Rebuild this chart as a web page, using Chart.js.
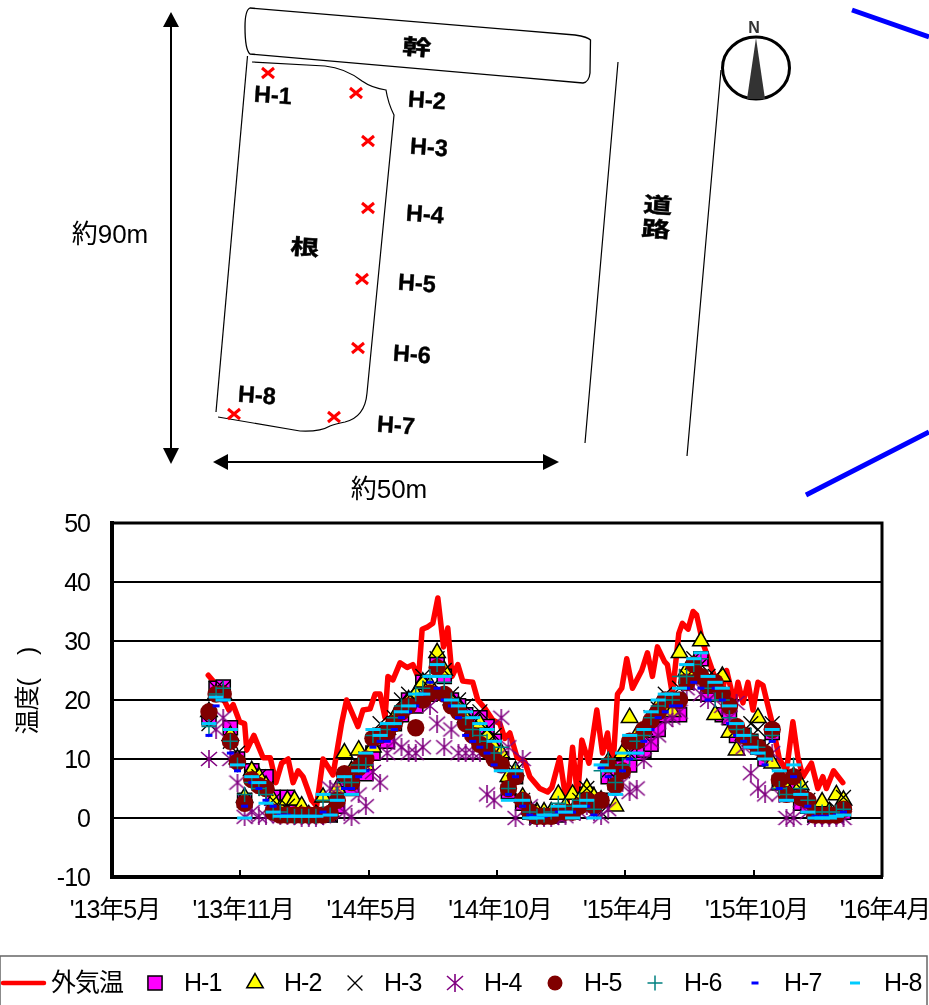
<!DOCTYPE html>
<html lang="ja">
<head>
<meta charset="utf-8">
<title>温度</title>
<script src="https://cdn.jsdelivr.net/npm/chart.js@4"></script>
<style>
html, body { margin: 0; padding: 0; background: #fff; }
#wrap { position: relative; width: 929px; height: 1005px; overflow: hidden; }
#myChart { position: absolute; left: 0; top: 0; }
#plan { position: absolute; left: 0; top: 0; }
#plan .lbl { font: bold 23.5px "Liberation Sans", Arial, sans-serif; text-anchor: middle; stroke: #000; stroke-width: .4; }
#plan .kanji { font: bold 25px "Noto Sans CJK JP", sans-serif; text-anchor: middle; stroke: #000; stroke-width: .6; }
#plan .dim { font: 26px "Liberation Sans", "Noto Sans CJK JP", sans-serif; text-anchor: middle; }
</style>
</head>
<body>
<div id="wrap">
<canvas id="myChart" width="929" height="1005"></canvas>
<svg id="plan" width="929" height="510" viewBox="0 0 929 510">
  <!-- trunk, root, road -->
  <path d="M250 8 L575 35 Q588 37 590.5 40 L590 73 Q589 82 583 83 L250 54 Q245 50 245 27 Q245 10 250 8 Z" fill="none" stroke="#000" stroke-width="1.3"/>
  <path d="M247.5 56 L216 412" fill="none" stroke="#000" stroke-width="1.2"/>
  <path d="M252 62 L325 66 Q345 68 362 81 Q372 88 386 90 Q388 103 394 115 L367 393 Q365 417 345 422 Q335 424 330 426 Q320 432 300 431 L218 417" fill="none" stroke="#000" stroke-width="1.2"/>
  <path d="M618 62 L585 443 M721 70 L687 456" fill="none" stroke="#000" stroke-width="1.2"/>
  <!-- compass -->
  <ellipse cx="756" cy="68" rx="33.5" ry="31" fill="#fff" stroke="#000" stroke-width="3"/>
  <path d="M756 38 L765 99 L747 99 Z" fill="#333"/>
  <text x="754" y="33" font-family="Liberation Sans" font-weight="bold" font-size="16" fill="#333" text-anchor="middle">N</text>
  <!-- blue lines -->
  <path d="M852 10 L929 37 M806 495 L929 432" stroke="#0000ff" stroke-width="5" fill="none"/>
  <!-- dimension arrows -->
  <path d="M171 20 L171 456 M222 462 L550 462" stroke="#000" stroke-width="2" fill="none"/>
  <path d="M171 12 L179 27 L163 27 Z M171 464 L179 448 L163 448 Z M213 462 L228 454 L228 470 Z M559 462 L543 454 L543 470 Z" fill="#000"/>
  <text class="dim" x="110" y="243">約90m</text>
  <text class="dim" x="389" y="498">約50m</text>
  <!-- measuring points -->
  <g stroke="#ff0000" stroke-width="3" fill="none">
    <path d="M262 68 L274 78 M274 68 L262 78"/>
    <path d="M350 88 L362 98 M362 88 L350 98"/>
    <path d="M362 136 L374 146 M374 136 L362 146"/>
    <path d="M362 203 L374 213 M374 203 L362 213"/>
    <path d="M356 274 L368 284 M368 274 L356 284"/>
    <path d="M352 343 L364 353 M364 343 L352 353"/>
    <path d="M328 412 L340 422 M340 412 L328 422"/>
    <path d="M228 409 L240 419 M240 409 L228 419"/>
  </g>
  <g>
    <text class="lbl" transform="rotate(4 273 95)" x="273" y="103">H-1</text>
    <text class="lbl" transform="rotate(4 427 100)" x="427" y="108">H-2</text>
    <text class="lbl" transform="rotate(4 429 147)" x="429" y="155">H-3</text>
    <text class="lbl" transform="rotate(4 425 214)" x="425" y="222">H-4</text>
    <text class="lbl" transform="rotate(4 417 283)" x="417" y="291">H-5</text>
    <text class="lbl" transform="rotate(4 412 354)" x="412" y="362">H-6</text>
    <text class="lbl" transform="rotate(4 396 425)" x="396" y="433">H-7</text>
    <text class="lbl" transform="rotate(4 257 395)" x="257" y="403">H-8</text>
    <text class="kanji" transform="translate(417 47) rotate(4) scale(1.15 .85)" y="9">幹</text>
    <text class="kanji" transform="translate(305 247) rotate(4) scale(1.15 .85)" y="9">根</text>
    <text class="kanji" transform="translate(658 205) rotate(4) scale(1.15 .85)" y="9">道</text>
    <text class="kanji" transform="translate(656 229) rotate(4) scale(1.15 .85)" y="9">路</text>
  </g>
</svg>
</div>
<script>
// axis labels
const tickLabels = ["'13年5月", "'13年11月", "'14年5月", "'14年10月", "'15年4月", "'15年10月", "'16年4月"];
const seriesNames = ["外気温", "H-1", "H-2", "H-3", "H-4", "H-5", "H-6", "H-7", "H-8"];

// days counted from '13年5月, outside temperature has its own sampling
const airDays = [135,147,164,170,179,186,189,199,212,222,230,238,247,254,261,268,280,287,296,310,322,329,345,352,362,369,376,383,387,394,404,414,422,430,435,443,450,457,465,471,477,485,492,506,513,523,534,544,551,558,568,579,586,600,611,617,628,638,646,653,659,669,680,688,695,702,709,715,722,730,743,751,758,765,775,779,786,795,800,808,815,820,829,845,855,862,873,878,885,892,899,906,913,925,936,946,955,962,969,981,990,997,1002,1012,1025];
const airTemp = [24.2,22.5,18.3,19.2,16.3,16,11.5,14,10.2,10.2,6,9.3,10,6,8,7,3,2,10,7.3,16,20,15.5,18.3,18.5,21,21,17,24,23.4,26.3,25.5,26,23.7,32,32.4,33,37.3,29,32.2,24,26,23.2,23,20,18.6,16.6,16,13.5,14.4,10.3,9.5,7,5,4.4,5.2,10.2,2,12,3.6,13.2,9.3,18.3,11,14.4,7.6,21,22,27,22,25,28,24,29,26.5,26,21,31.3,33,32,35,34.4,29.6,24,21,25,19.5,23,19.5,23,18.3,23,22.5,16.6,10,8,16.3,10.3,7,9.3,5,7,5,8,6];

// sampling days of the H-1 .. H-8 sensors
const sensorDays = [136,146,156,166,176,186,196,206,216,226,236,246,256,266,276,286,296,306,316,326,336,346,356,366,376,386,396,406,416,426,436,446,456,466,476,486,496,506,516,526,536,546,556,566,576,586,596,606,616,626,636,646,656,666,676,686,696,706,716,726,736,746,756,766,776,786,796,806,816,826,836,846,856,866,876,886,896,906,916,926,936,946,956,966,976,986,996,1006,1016,1026];

const h1 = [17,22,22.2,15.3,10,3,8,6,7,3.5,1.5,3.5,2,0.5,0.5,0.5,0.5,0.5,2,6.5,5,8,7.5,11,14,13,16,17.5,20,19,23,21,26,24,20,19,17.5,16,17,15.5,13,10,4.5,7,2.5,1,0.3,0.3,0.3,0.5,1,1,2.5,4,2.5,3,7,6,8.5,9,11,11.5,12.5,15,17.5,17.5,17.5,23,24,27,21,23,17.5,17,14,14,13,12,10,14.5,6,4,6,2.5,2,0.5,0.5,0.5,0.5,1];
const h2 = [18,21,21,14,10,3.5,8,7,5.5,3,1.5,3,3,2,0.5,0.5,3.5,1,5,11,8,11.5,9,12,14,15,17,18.5,20,21,23,22.5,28,25,20,19,17,15,16,14,12,11,7,8,3.5,1.5,1,1,1,4,2,4,3,5,3.5,3,9.5,2,11,17,14,15,17,19,19,18,28,25,26,30,22,17.5,24,14.5,11.5,14,13,17,11,9.3,5.6,5,7,5.6,3,1,2.7,1,3.9,3];
const h3 = [16,22,22,13,11,3,7,7,5,3,1,2,1,0.5,0.3,0.3,1,0.5,3,7,6,9,10,13,16,15,17,20,21,20,24,22,27,25,21,20,19,17,18,15,14,10,5,8,3,1,0,0.5,0.5,1,1,1,3,5,3,1,8,6,8,11,13,14,17,18.5,21,20,22,24,27,26,24,24,21,19,15,14,16,15,12,16,7,5,7,5,3,0.5,0.5,0.5,1.5,3.5];
const h4 = [10,15,17,10,6,0.2,1,0.3,0.3,1,0.3,0.3,0.3,0,0,0,0.3,5,5,1,0.2,4,2,7.8,6,11,13,12,11,11,12,19,16,12,15,11,11,11,11,4,3,17,12,0,10,2,0,0,0,0.3,0.3,1,1,2,1,0.3,1.5,5,6,4.4,5,9.8,13,14,16.6,17,18,22,23,21,20,21,19,17,19.5,12,7.6,5,4,11,4,0,0,3,1,0,0,0,0,0];
const h5 = [18,21,21,13,9.5,2.5,6.5,5.5,5,1,0.5,0.5,0.5,0.5,0.5,0.5,0.5,0.8,3,7.5,6,8.5,10,13.5,14,14.5,16,18,19,15.3,20,21.2,25.5,21,19,18,16,14,12.5,11.5,10,9,5,7,3,1,0.3,0.3,0.3,1,1,1,2,3,2,3,9,5.5,8,13,13,15,16.5,18,20,20,20,23,26,24,22.5,23,21,19,15.5,14,13,12,11,15,6.5,4,7,3.5,3,0.5,0.5,0.5,0.5,1.5];
const h6 = [15.5,21,22,13,9,4,6,5,4,1,1,0.5,0.3,0.3,0.3,0.3,3,0.5,4,6,6,9,9,14,14,15,17,19,19,21,22,24,26,23,20,19,17,15,14,13,11,12,5,8,3,1,0.3,0.5,1,2.5,2,2,3,3,1.5,8,10,6,9,10,13,14,17,19,20,20,24,24,26,27,22,20,20,17,15,14,14,12,10,14,5,4,9,5,3,1,1,1,1,1.5];
const h7 = [14,19,20,11,8,2,6,5,3,2,0.5,0.5,0.3,0.3,0.3,0.3,1,0.5,3,5,5,7,8,12,13,13,15,17,18,19,21,23,22,20,19,17,14,13,12,11,9,8,4,7,2,0.5,0.3,0.3,0.5,1,1,1,2,2,0.5,8.5,7,4,8,10,11,13,15,17,18,19,19,22,23,22,20,22,20,16,14,13,12,11,9,13,5,3,7,4,2,0.3,0.3,0.3,0.5,1];
const h8 = [16,20.5,20,15,9,0,7,6,2.5,1,0.3,0.3,0.3,0.3,0.3,0.3,4,0.5,3,7,4,8,11,15,14,16,16,18,19,21,21,24,26,24,20,19,18,17,16,15,13,8,3,8,3,0,0,0.5,0.5,2,1,0,2,3,0,9,8,4,11,14,11,15,18,20,21,21,22,26,27,28,24,23,22,19,16,14,12,11,10,15,8,3,9,4,1,0,0,0,0.3,0.5];

const sensorValues = [h1, h2, h3, h4, h5, h6, h7, h8];

const fontFamily = '"Liberation Sans", "Noto Sans CJK JP", sans-serif';

// six spoke asterisk for H-4, the library star has eight
function asterisk() {
    const c = document.createElement('canvas');
    c.width = 18; c.height = 18;
    const g = c.getContext('2d');
    g.strokeStyle = '#800080';
    g.lineWidth = 1.6;
    g.beginPath();
    g.moveTo(9, 0); g.lineTo(9, 18);
    g.moveTo(1, 2); g.lineTo(17, 16);
    g.moveTo(17, 2); g.lineTo(1, 16);
    g.stroke();
    return c;
}

const sensorStyles = [
    { pointStyle: 'rect', pointRadius: 10, pointBackgroundColor: '#ff00ff', pointBorderColor: '#000', pointBorderWidth: 1.5 },
    { pointStyle: 'triangle', pointRadius: 9.5, pointBackgroundColor: '#ffff00', pointBorderColor: '#000', pointBorderWidth: 1.5 },
    { pointStyle: 'crossRot', pointRadius: 10.5, pointBackgroundColor: '#000', pointBorderColor: '#000', pointBorderWidth: 1.3 },
    { pointStyle: asterisk(), pointRadius: 9, pointBackgroundColor: '#800080', pointBorderColor: '#800080', pointBorderWidth: 1.5 },
    { pointStyle: 'circle', pointRadius: 8.7, pointBackgroundColor: '#800000', pointBorderColor: '#800000', pointBorderWidth: 0 },
    { pointStyle: 'cross', pointRadius: 7.5, pointBackgroundColor: '#008080', pointBorderColor: '#008080', pointBorderWidth: 1.5 },
    { pointStyle: 'line', pointRadius: 3.5, pointBackgroundColor: '#0000ff', pointBorderColor: '#0000ff', pointBorderWidth: 3 },
    { pointStyle: 'line', pointRadius: 7.5, pointBackgroundColor: '#00ccff', pointBorderColor: '#00ccff', pointBorderWidth: 3 }
];
// legend markers that differ from the plot ones
const legendRadius = { 'H-5': 7.5, 'H-8': 5 };

const datasets = [{
    label: seriesNames[0],
    data: airDays.map((d, i) => ({ x: d, y: airTemp[i] })),
    borderColor: '#ff0000',
    borderWidth: 5.5,
    borderJoinStyle: 'round',
    borderCapStyle: 'round',
    pointRadius: 0,
    tension: 0,
    order: 9,
    clip: false
}];
sensorValues.forEach((vals, s) => {
    datasets.push(Object.assign({
        label: seriesNames[s + 1],
        data: sensorDays.map((d, i) => ({ x: d, y: vals[i] })),
        showLine: false,
        order: 8 - s,
        clip: false
    }, sensorStyles[s]));
});

// plot frame, top and right are not axes here
const framePlugin = {
    id: 'frame',
    beforeDraw(chart) {
        chart.ctx.letterSpacing = '-1px';
    },
    afterDatasetsDraw(chart) {
        const a = chart.chartArea, ctx = chart.ctx;
        ctx.save();
        ctx.strokeStyle = '#000';
        ctx.lineWidth = 3;
        ctx.beginPath();
        ctx.moveTo(a.left, a.top);
        ctx.lineTo(a.right, a.top);
        ctx.lineTo(a.right, a.bottom);
        ctx.stroke();
        ctx.restore();
    }
};

// legend row with fixed 100px pitch, markers come from the dataset styles
const legendPlugin = {
    id: 'rowLegend',
    afterDraw(chart) {
        const ctx = chart.ctx;
        const y = 983;
        ctx.save();
        ctx.strokeStyle = '#666';
        ctx.lineWidth = 1.5;
        ctx.strokeRect(0, 956, 927, 60);
        ctx.font = '25px ' + fontFamily;
        ctx.textBaseline = 'middle';
        ctx.fillStyle = '#000';

        ctx.strokeStyle = chart.data.datasets[0].borderColor;
        ctx.lineWidth = 4.5;
        ctx.lineCap = 'round';
        ctx.beginPath();
        ctx.moveTo(3, y);
        ctx.lineTo(44, y);
        ctx.stroke();
        ctx.fillText(chart.data.datasets[0].label, 51, y + 1);

        chart.data.datasets.slice(1).forEach((ds, i) => {
            const cx = 155 + i * 100;
            ctx.save();
            ctx.fillStyle = ds.pointBackgroundColor;
            ctx.strokeStyle = ds.pointBorderColor;
            ctx.lineWidth = ds.pointBorderWidth;
            ctx.lineCap = 'butt';
            const r = legendRadius[ds.label] || ds.pointRadius;
            Chart.helpers.drawPoint(ctx, { pointStyle: ds.pointStyle, radius: r, rotation: 0, borderWidth: ds.pointBorderWidth }, cx, y);
            ctx.restore();
            ctx.fillText(ds.label, 184 + i * 100, y + 1);
        });
        ctx.restore();
    }
};

new Chart('myChart', {
    type: 'line',
    data: { datasets: datasets },
    plugins: [framePlugin, legendPlugin],
    options: {
        responsive: false,
        animation: false,
        layout: { padding: { left: 0, top: 523, right: 47, bottom: 0 } },
        plugins: { legend: { display: false }, tooltip: { enabled: false } },
        scales: {
            x: {
                type: 'linear',
                min: 0,
                max: 1080,
                afterFit(scale) { scale.height = 128; scale.paddingLeft = 0; scale.paddingRight = 0; },
                grid: { drawOnChartArea: false, color: '#000', lineWidth: 2, tickLength: -7 },
                border: { color: '#000', width: 4 },
                ticks: {
                    stepSize: 180,
                    autoSkip: false,
                    maxRotation: 0,
                    padding: 26,
                    labelOffset: 3,
                    color: '#000',
                    font: { family: fontFamily, size: 25 },
                    callback: (v, i) => tickLabels[i]
                }
            },
            y: {
                min: -10,
                max: 50,
                afterFit(scale) { scale.width = 112; scale.paddingTop = 0; scale.paddingBottom = 0; },
                grid: { color: '#000', lineWidth: 2, drawTicks: false },
                border: { color: '#000', width: 4 },
                title: {
                    display: true,
                    text: '   温度(　)',
                    color: '#000',
                    font: { family: fontFamily, size: 25 },
                    padding: { top: 14, bottom: 0 }
                },
                ticks: {
                    stepSize: 10,
                    padding: 22,
                    labelOffset: 2,
                    color: '#000',
                    font: { family: fontFamily, size: 25 }
                }
            }
        }
    }
});
</script>
</body>
</html>
